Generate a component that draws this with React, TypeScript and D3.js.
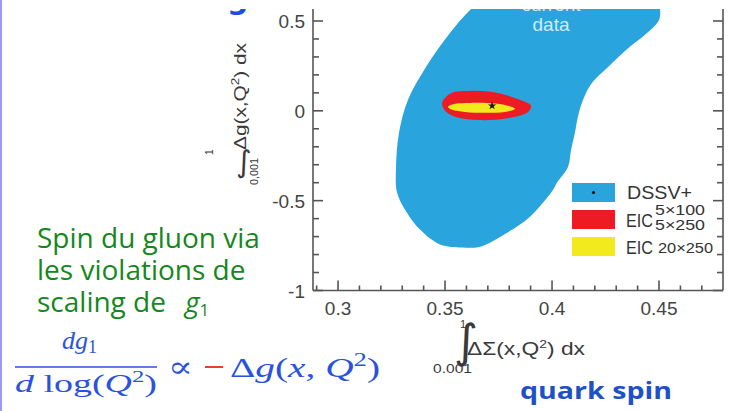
import React from "react";
import * as d3 from "d3";

// ---------- data ----------
const X_DOMAIN = [0.2883, 0.4799];
const Y_DOMAIN = [-1.0, 0.5667];
const X_MAJOR_TICKS = [0.3, 0.35, 0.4, 0.45];
const X_TICK_LABELS = ["0.3", "0.35", "0.4", "0.45"];
const Y_MAJOR_TICKS = [0.5, 0, -0.5, -1];
const Y_TICK_LABELS = ["0.5", "0", "-0.5", "-1"];

// current data (DSSV+) contour
const DSSV_X = [0.372, 0.3622, 0.3523, 0.3411, 0.3327, 0.3285, 0.3271, 0.3276, 0.3322, 0.3383, 0.3477, 0.358, 0.3664, 0.379, 0.3897, 0.4005, 0.4023, 0.4075, 0.4089, 0.4107, 0.4121, 0.4145, 0.4187, 0.4262, 0.4346, 0.4444, 0.450, 0.4505, 0.449];
const DSSV_Y = [0.66, 0.567, 0.433, 0.244, 0.061, -0.122, -0.311, -0.456, -0.567, -0.661, -0.744, -0.761, -0.756, -0.678, -0.589, -0.439, -0.4, -0.311, -0.217, -0.122, -0.033, 0.061, 0.156, 0.244, 0.339, 0.433, 0.506, 0.567, 0.66];

// EIC 5x100 / 5x250 (red)
const EIC_LOW_X = [0.3486, 0.3509, 0.3547, 0.3617, 0.371, 0.378, 0.385, 0.3902, 0.3888, 0.3827, 0.3734, 0.364, 0.3547, 0.35];
const EIC_LOW_Y = [0.044, 0.083, 0.106, 0.111, 0.106, 0.089, 0.061, 0.028, -0.006, -0.033, -0.05, -0.05, -0.033, 0.0];

// EIC 20x250 (yellow)
const EIC_HIGH_X = [0.3514, 0.3547, 0.3617, 0.371, 0.378, 0.3827, 0.378, 0.3687, 0.3593, 0.3533];
const EIC_HIGH_Y = [0.022, 0.039, 0.044, 0.042, 0.033, 0.011, -0.006, -0.011, -0.006, 0.006];

const BEST_FIT_X = 0.372;
const BEST_FIT_Y = 0.028;

const LEGEND_LABELS = ["DSSV+", "EIC", "EIC"];
const LEGEND_COLORS = ["#29a4dd", "#ed1c24", "#f2ea1c"];

const GREEN_LINES = ["Spin du gluon via", "les violations de", "scaling de"];

// ---------- layout ----------
const W = 730;
const H = 411;
const L = 313, R = 723, T = 9, B = 290.5;

export default function App() {
  const x = d3.scaleLinear().domain(X_DOMAIN).range([L, R]);
  const y = d3.scaleLinear().domain(Y_DOMAIN).range([B, T]);

  const line = d3
    .line<[number, number]>()
    .x((d) => x(d[0]))
    .y((d) => y(d[1]))
    .curve(d3.curveCatmullRomClosed.alpha(0.5));

  const dssv = line(DSSV_X.map((v, i) => [v, DSSV_Y[i]] as [number, number])) || "";
  const eicLow = line(EIC_LOW_X.map((v, i) => [v, EIC_LOW_Y[i]] as [number, number])) || "";
  const eicHigh = line(EIC_HIGH_X.map((v, i) => [v, EIC_HIGH_Y[i]] as [number, number])) || "";

  const xMinor = d3.range(0.29, 0.4751, 0.01);
  const yMinor = d3.range(-1, 0.5501, 0.1);
  const isMajor = (v: number, step: number) => Math.abs(v / step - Math.round(v / step)) < 1e-6;

  const axisColor = "#555";
  const tickFont = "'Liberation Sans', Arial, sans-serif";
  const star = d3.symbol().type(d3.symbolStar).size(22)() || "";

  const blue = "#2a52e0";

  return (
    <svg
      width={W}
      height={H}
      viewBox={`0 0 ${W} ${H}`}
      style={{ position: "absolute", left: 0, top: 0, display: "block" }}
    >
      <defs>
        <clipPath id="plotClip">
          <rect x={L} y={T} width={R - L} height={B - T} />
        </clipPath>
        <clipPath id="topClip">
          <rect x={0} y={T} width={W} height={H - T} />
        </clipPath>
      </defs>
      <rect x={0} y={0} width={W} height={H} fill="#fff" />
      <rect x={0} y={0} width={2} height={H} fill="#9a9af2" />

      {/* clipped blue title glyph remnant */}
      <g clipPath="url(#topClip)">
        <text x={227} y={9} fontFamily="'DejaVu Sans', sans-serif" fontWeight="bold" fontSize={30} fill="#1d4fdc">
          g
        </text>
      </g>

      {/* plot contents */}
      <g clipPath="url(#plotClip)">
        <path d={dssv} fill="#29a4dd" />
        <text x={551} y={11} textAnchor="middle" fontFamily={tickFont} fontSize={19} fill="#cfeaf8">
          current
        </text>
        <text x={551} y={31} textAnchor="middle" fontFamily={tickFont} fontSize={19} fill="#cfeaf8">
          data
        </text>
        <path d={eicLow} fill="#ed1c24" />
        <path d={eicHigh} fill="#f2ea1c" />
        <path d={star} transform={`translate(${x(BEST_FIT_X)},${y(BEST_FIT_Y)})`} fill="#1a1a1a" />
      </g>

      {/* axes */}
      <g stroke={axisColor} strokeWidth={1.6} fill="none">
        <line x1={L} y1={T} x2={L} y2={B} />
        <line x1={R} y1={T} x2={R} y2={B} />
        <line x1={L} y1={B} x2={R} y2={B} />
        {xMinor.map((v, i) => {
          const len = isMajor(v, 0.05) ? 10 : 5;
          return <line key={"xt" + i} x1={x(v)} x2={x(v)} y1={B} y2={B - len} />;
        })}
        {yMinor.map((v, i) => {
          const len = isMajor(v, 0.5) ? 10 : 6;
          return (
            <g key={"yt" + i}>
              <line x1={L} x2={L + len} y1={y(v)} y2={y(v)} />
              <line x1={R} x2={R - len} y1={y(v)} y2={y(v)} />
            </g>
          );
        })}
      </g>

      {/* tick labels */}
      <g fontFamily={tickFont} fontSize={19} fill="#444">
        {X_MAJOR_TICKS.map((v, i) => (
          <text key={"xl" + i} x={x(v)} y={315} textAnchor="middle">
            {X_TICK_LABELS[i]}
          </text>
        ))}
        {Y_MAJOR_TICKS.map((v, i) => (
          <text key={"yl" + i} x={305} y={y(v) + 7} textAnchor="end">
            {Y_TICK_LABELS[i]}
          </text>
        ))}
      </g>

      {/* y-axis label */}
      <g transform="translate(246,150) rotate(-90)" fontFamily={tickFont} fill="#3a3a3a">
        <text x={0} y={0} fontSize={17} textLength={107} lengthAdjust="spacingAndGlyphs">
          Δg(x,Q<tspan dy={-7} fontSize={11}>2</tspan>
          <tspan dy={7}>) dx</tspan>
        </text>
        <text x={-5} y={-33} fontSize={10}>1</text>
        <text x={-35} y={12} fontSize={10} textLength={27} lengthAdjust="spacingAndGlyphs">0,001</text>
      </g>
      <text x={236} y={172} fontSize={30} fontFamily="'DejaVu Sans', sans-serif" fill="#3a3a3a">
        ∫
      </text>

      {/* x-axis label */}
      <g transform="translate(467,355)" fontFamily={tickFont} fill="#3a3a3a">
        <text x={0} y={0} fontSize={18} textLength={118} lengthAdjust="spacingAndGlyphs">
          ΔΣ(x,Q<tspan dy={-7} fontSize={11}>2</tspan>
          <tspan dy={7}>) dx</tspan>
        </text>
        <text x={-13} y={2} fontSize={46} fontFamily="'DejaVu Sans', sans-serif">
          ∫
        </text>
        <text x={-7} y={-27} fontSize={11}>1</text>
        <text x={-34} y={18} fontSize={12} textLength={39} lengthAdjust="spacingAndGlyphs">0.001</text>
      </g>

      {/* legend */}
      <g fontFamily={tickFont} fill="#333">
        {LEGEND_COLORS.map((c, i) => (
          <rect key={"lg" + i} x={572} y={[183, 210, 237][i]} width={43} height={19} fill={c} />
        ))}
        <circle cx={593.5} cy={192.5} r={1.6} fill="#111" />
        <text x={627} y={199} fontSize={18} textLength={65} lengthAdjust="spacingAndGlyphs">{LEGEND_LABELS[0]}</text>
        <text x={626} y={227} fontSize={18} textLength={27} lengthAdjust="spacingAndGlyphs">{LEGEND_LABELS[1]}</text>
        <text x={655} y={215} fontSize={14} textLength={50} lengthAdjust="spacingAndGlyphs">5×100</text>
        <text x={655} y={230} fontSize={14} textLength={50} lengthAdjust="spacingAndGlyphs">5×250</text>
        <text x={626} y={254} fontSize={18} textLength={27} lengthAdjust="spacingAndGlyphs">{LEGEND_LABELS[2]}</text>
        <text x={658} y={253} fontSize={15} textLength={55} lengthAdjust="spacingAndGlyphs">20×250</text>
      </g>

      {/* green annotation */}
      <g fontFamily="'Open Sans', sans-serif" fontSize={28} fill="#14881a">
        <text x={37} y={248}>{GREEN_LINES[0]}</text>
        <text x={37} y={280}>{GREEN_LINES[1]}</text>
        <text x={37} y={312}>{GREEN_LINES[2]}</text>
        <text x={185} y={312}>
          <tspan fontStyle="italic">g</tspan>
          <tspan fontSize={17} dy={4}>1</tspan>
        </text>
      </g>

      {/* formula */}
      <g fontFamily="'Liberation Serif', 'DejaVu Serif', serif" fill={blue}>
        <text x={62} y={349} fontSize={26}>
          <tspan fontStyle="italic">dg</tspan>
          <tspan fontSize={18} dy={4}>1</tspan>
        </text>
        <line x1={15} x2={157} y1={367} y2={367} stroke={blue} strokeWidth={1.4} />
        <text x={15} y={392} fontSize={26} textLength={142} lengthAdjust="spacingAndGlyphs">
          <tspan fontStyle="italic">d</tspan>
          <tspan> log(</tspan>
          <tspan fontStyle="italic">Q</tspan>
          <tspan fontSize={17} dy={-10}>2</tspan>
          <tspan dy={10}>)</tspan>
        </text>
        <text x={168} y={377} fontSize={30} fontFamily="'DejaVu Serif', serif" textLength={25} lengthAdjust="spacingAndGlyphs">∝</text>
        <line x1={205} x2={223} y1={367} y2={367} stroke="#e8402a" strokeWidth={2} />
        <text x={230} y={377} fontSize={28} textLength={150} lengthAdjust="spacingAndGlyphs">
          <tspan>Δ</tspan>
          <tspan fontStyle="italic">g</tspan>
          <tspan>(</tspan>
          <tspan fontStyle="italic">x</tspan>
          <tspan>, </tspan>
          <tspan fontStyle="italic">Q</tspan>
          <tspan fontSize={19} dy={-11}>2</tspan>
          <tspan dy={11}>)</tspan>
        </text>
      </g>

      {/* quark spin */}
      <text x={520} y={399} fontFamily="'Open Sans', sans-serif" fontWeight="bold" fontSize={24} fill="#1e50c8" textLength={152} lengthAdjust="spacingAndGlyphs">
        quark spin
      </text>
    </svg>
  );
}
